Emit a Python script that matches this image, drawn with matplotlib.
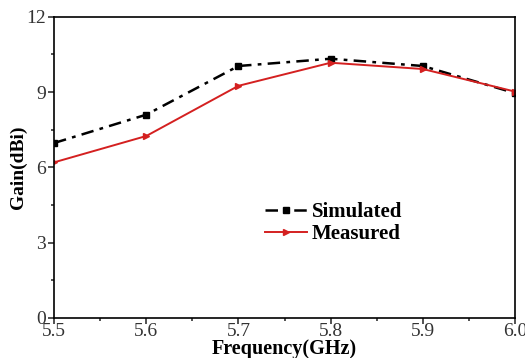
import numpy as np
import matplotlib
matplotlib.use("Agg")
import matplotlib.pyplot as plt
from matplotlib.ticker import MultipleLocator

plt.rcParams['font.family'] = ['Liberation Serif', 'DejaVu Serif']

freq = [5.5, 5.6, 5.7, 5.8, 5.9, 6.0]
simulated = [6.97, 8.1, 10.04, 10.33, 10.04, 8.96]
measured = [6.2, 7.25, 9.25, 10.17, 9.92, 9.02]

fig = plt.figure(figsize=(5.25, 3.58), dpi=100)
ax = fig.add_axes([0.103, 0.112, 0.878, 0.841])

ax.plot(freq, simulated, color='black', linestyle=(0, (5, 2.5, 1.5, 2.5)), linewidth=1.8,
        marker='s', markersize=4, label='Simulated')
ax.plot(freq, measured, color='#d42020', linestyle='-', linewidth=1.4,
        marker='>', markersize=4.5, label='Measured')

ax.set_xlim(5.5, 6.0)
ax.set_ylim(0, 12)
ax.xaxis.set_major_locator(MultipleLocator(0.1))
ax.xaxis.set_minor_locator(MultipleLocator(0.05))
ax.yaxis.set_major_locator(MultipleLocator(3))
ax.yaxis.set_minor_locator(MultipleLocator(1.5))
ax.tick_params(which='both', direction='out', labelsize=14, width=1.2, colors='#333333')
ax.tick_params(which='major', length=4)
ax.tick_params(which='minor', length=2.5)
ax.tick_params(axis='x', pad=0)
ax.tick_params(axis='y', pad=2)
for sp in ax.spines.values():
    sp.set_linewidth(1.2)

ax.set_xlabel('Frequency(GHz)', fontsize=14.5, fontweight='bold', labelpad=-1)
ax.set_ylabel('Gain(dBi)', fontsize=14, fontweight='bold', labelpad=-1)

ax.legend(loc='upper left', bbox_to_anchor=(0.435, 0.42), frameon=False,
          prop={'weight': 'bold', 'size': 15}, handlelength=2.0,
          handletextpad=0.25, labelspacing=0.1, borderpad=0)

fig.savefig('out.png', dpi=100)
